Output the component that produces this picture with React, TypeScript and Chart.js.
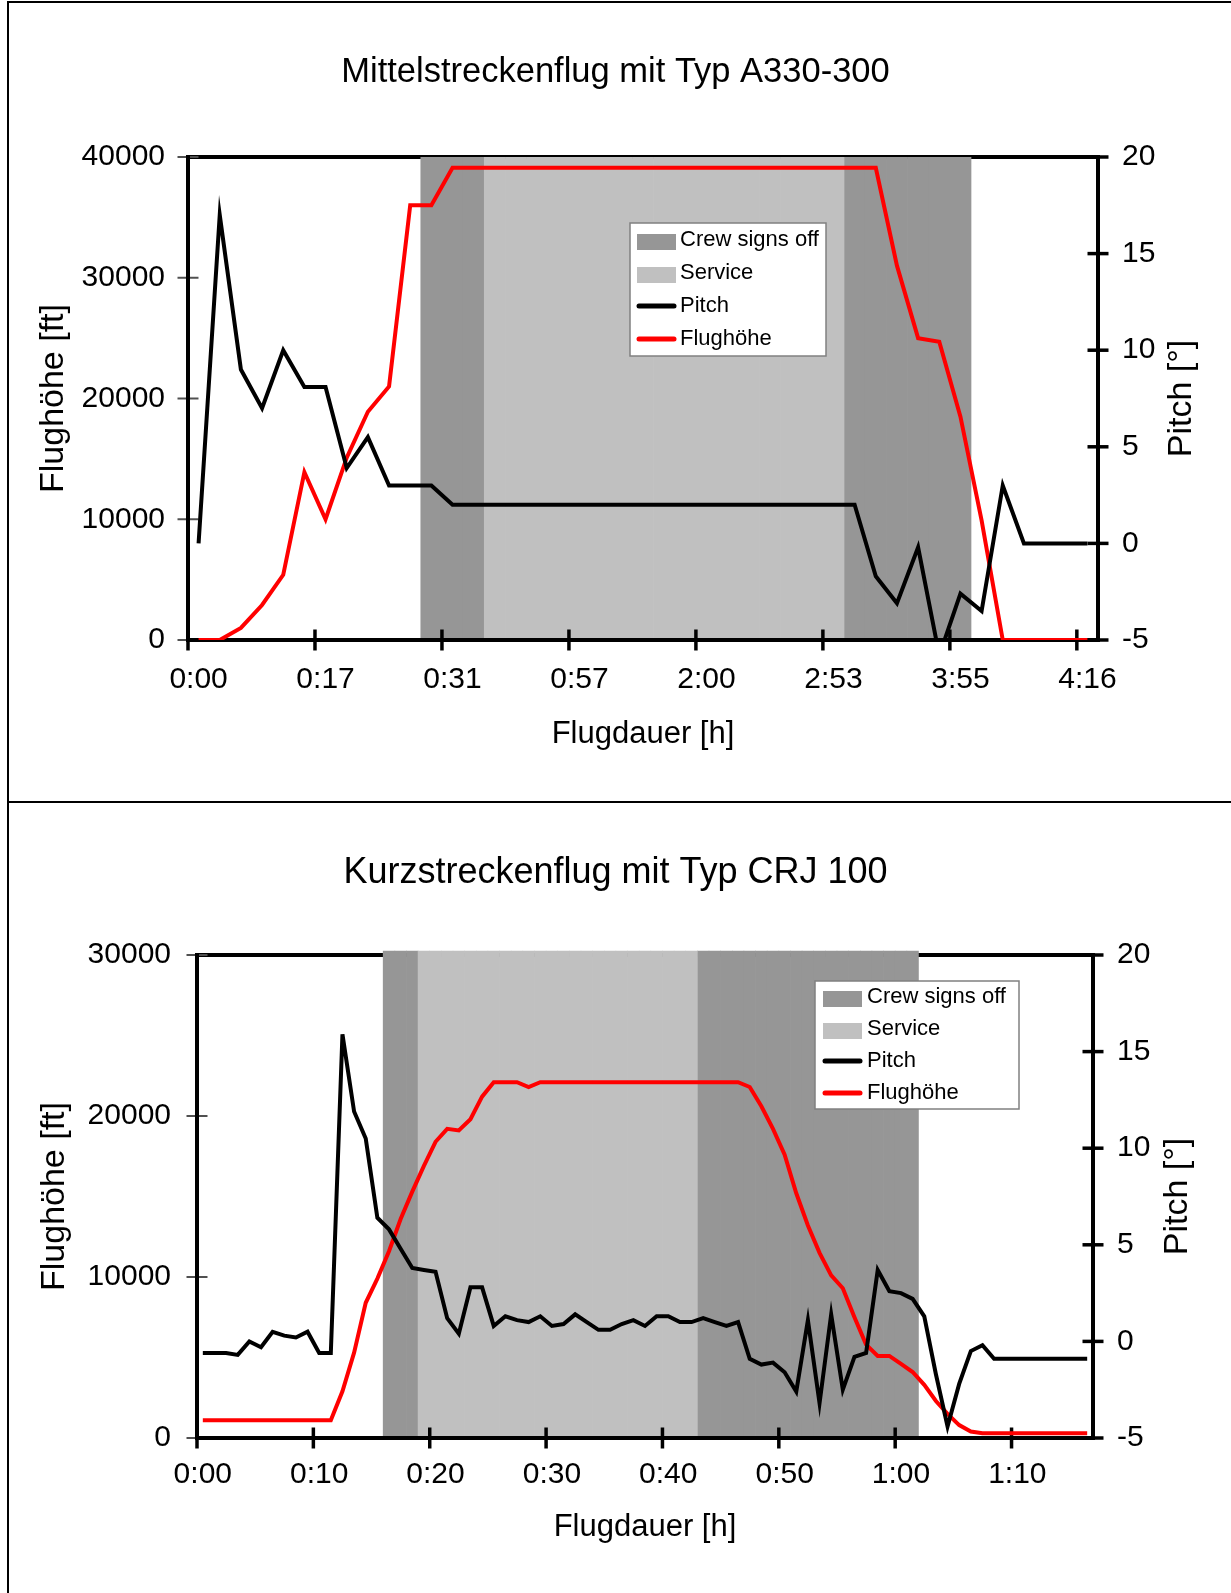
import React, { useEffect, useRef } from 'react';
import { Chart, registerables } from 'chart.js';

Chart.register(...registerables);

const FONT = '"Liberation Sans", Arial, Helvetica, sans-serif';
Chart.defaults.font.family = FONT;
Chart.defaults.color = '#000';

// ---------------- Mittelstreckenflug mit Typ A330-300 ----------------
const a330Title = 'Mittelstreckenflug mit Typ A330-300';
const a330TimeLabels = ['0:00', '0:17', '0:31', '0:57', '2:00', '2:53', '3:55', '4:16'];
const a330LabelEvery = 6;
const a330Pitch = [
  0, 17.0, 9.0, 7.0, 10.0, 8.1, 8.1, 3.9, 5.5, 3.0, 3.0, 3.0,
  2.0, 2.0, 2.0, 2.0, 2.0, 2.0, 2.0, 2.0, 2.0, 2.0,
  2.0, 2.0, 2.0, 2.0, 2.0, 2.0, 2.0, 2.0, 2.0, 2.0,
  -1.7, -3.1, -0.2, -5.8, -2.6, -3.5, 3.0, 0, 0, 0, 0,
];
const a330Altitude = [
  0, 0, 1000, 2900, 5400, 13900, 10000, 15100, 18900, 21000, 36000, 36000,
  39100, 39100, 39100, 39100, 39100, 39100, 39100, 39100, 39100, 39100,
  39100, 39100, 39100, 39100, 39100, 39100, 39100, 39100, 39100, 39100, 39100,
  31000, 25000, 24700, 18500, 9900, 0, 0, 0, 0, 0,
];
const a330CrewSignsOff = [[11, 13], [31, 36]];
const a330Service = [[14, 30]];

// ---------------- Kurzstreckenflug mit Typ CRJ 100 ----------------
const crjTitle = 'Kurzstreckenflug mit Typ CRJ 100';
const crjTimeLabels = ['0:00', '0:10', '0:20', '0:30', '0:40', '0:50', '1:00', '1:10'];
const crjLabelEvery = 10;
const crjPitch = [
  -0.6, -0.6, -0.6, -0.7, 0.0, -0.3, 0.5, 0.3, 0.2, 0.5,
  -0.6, -0.6, 15.9, 11.9, 10.5, 6.4, 5.8, 4.8, 3.8, 3.7,
  3.6, 1.2, 0.4, 2.8, 2.8, 0.8, 1.3, 1.1, 1.0, 1.3,
  0.8, 0.9, 1.4, 1.0, 0.6, 0.6, 0.9, 1.1, 0.8, 1.3,
  1.3, 1.0, 1.0, 1.2, 1.0, 0.8, 1.0, -0.9, -1.2, -1.1,
  -1.6, -2.6, 1.1, -3.2, 1.4, -2.5, -0.8, -0.6, 3.7, 2.6,
  2.5, 2.2, 1.3, -1.7, -4.4, -2.2, -0.5, -0.2, -0.9, -0.9,
  -0.9, -0.9, -0.9, -0.9, -0.9, -0.9, -0.9,
];
const crjAltitude = [
  1100, 1100, 1100, 1100, 1100, 1100, 1100, 1100, 1100, 1100,
  1100, 1100, 2900, 5300, 8400, 9900, 11600, 13600, 15300, 16900,
  18400, 19200, 19100, 19800, 21200, 22100, 22100, 22100, 21800, 22100,
  22100, 22100, 22100, 22100, 22100, 22100, 22100, 22100, 22100, 22100,
  22100, 22100, 22100, 22100, 22100, 22100, 22100, 21800, 20600, 19200,
  17600, 15200, 13200, 11500, 10100, 9300, 7500, 5800, 5100, 5100,
  4600, 4100, 3300, 2300, 1500, 800, 400, 300, 300, 300,
  300, 300, 300, 300, 300, 300, 300,
];
const crjCrewSignsOff = [[16, 18], [43, 61]];
const crjService = [[19, 42]];

const seriesNames = { crew: 'Crew signs off', service: 'Service', pitch: 'Pitch', altitude: 'Flughöhe' };
const axisTitles = { x: 'Flugdauer [h]', left: 'Flughöhe [ft]', right: 'Pitch [°]' };

// ---------------- helpers ----------------
const phaseValues = (n: number, ranges: number[][]) =>
  Array.from({ length: n }, (_, i) => (ranges.some(([a, b]) => i >= a && i <= b) ? 1 : null));

const categoryLabels = (n: number, labels: string[], every: number) =>
  Array.from({ length: n }, (_, i) => (i % every === 0 ? labels[i / every] ?? '' : ''));

function seg(ctx: any, x1: number, y1: number, x2: number, y2: number) {
  ctx.beginPath();
  ctx.moveTo(x1, y1);
  ctx.lineTo(x2, y2);
  ctx.stroke();
}

function drawAxes(chart: any, o: any) {
  const { ctx, chartArea: a, scales } = chart;
  const w = o.frameWidth;
  ctx.save();
  ctx.lineCap = 'butt';
  ctx.strokeStyle = o.leftTickColor;
  ctx.lineWidth = o.leftTickWidth;
  scales.yAlt.ticks.forEach((t: any) => {
    const y = scales.yAlt.getPixelForValue(t.value);
    seg(ctx, a.left - o.tickLen, y, a.left + o.tickLen, y);
  });
  ctx.strokeStyle = '#000';
  ctx.lineWidth = o.tickWidth;
  scales.yPitch.ticks.forEach((t: any) => {
    const y = scales.yPitch.getPixelForValue(t.value);
    seg(ctx, a.right - o.tickLen, y, a.right + o.tickLen, y);
  });
  const n = chart.data.labels.length;
  for (let i = 0; i < n; i += o.labelEvery) {
    const x = scales.x.getPixelForValue(i - 0.5);
    seg(ctx, x, a.bottom - o.tickLen, x, a.bottom + o.tickLen);
  }
  ctx.lineWidth = w;
  seg(ctx, a.left, a.top - w / 2, a.left, a.bottom + w / 2);
  seg(ctx, a.right, a.top - w / 2, a.right, a.bottom + w / 2);
  seg(ctx, a.left - w / 2, a.bottom, a.right + w / 2, a.bottom);
  ctx.restore();
}

function drawLegend(chart: any, o: any) {
  const L = o.legend;
  const { ctx, chartArea: a } = chart;
  const bx = a.left + L.dx;
  const by = a.top + L.dy;
  ctx.save();
  ctx.fillStyle = '#fff';
  ctx.fillRect(bx, by, L.w, L.h);
  ctx.strokeStyle = '#808080';
  ctx.lineWidth = 1.5;
  ctx.strokeRect(bx, by, L.w, L.h);
  ctx.font = `${L.fontSize}px ${FONT}`;
  ctx.textBaseline = 'middle';
  ctx.textAlign = 'left';
  chart.data.datasets.forEach((ds: any, i: number) => {
    const cy = by + L.rowStart + i * L.rowGap;
    const sx = bx + L.swatchDx;
    if (ds.type === 'bar') {
      ctx.fillStyle = ds.backgroundColor;
      ctx.fillRect(sx, cy - 6, L.swatchW, 16);
    } else {
      ctx.strokeStyle = ds.borderColor;
      ctx.lineWidth = 5;
      ctx.lineCap = 'round';
      seg(ctx, sx + 2, cy, sx + L.swatchW - 2, cy);
    }
    ctx.fillStyle = '#000';
    ctx.fillText(ds.label, bx + L.textDx, cy);
  });
  ctx.restore();
}

function drawRightTitle(chart: any, o: any) {
  const { ctx, chartArea: a } = chart;
  ctx.save();
  ctx.translate(a.right + o.rightTitleDx, (a.top + a.bottom) / 2);
  ctx.rotate(-Math.PI / 2);
  ctx.font = `${o.rightTitleSize}px ${FONT}`;
  ctx.fillStyle = '#000';
  ctx.textAlign = 'center';
  ctx.textBaseline = 'middle';
  ctx.fillText(o.rightTitle, 0, 0);
  ctx.restore();
}

const decorPlugin = {
  id: 'decor',
  beforeDatasetsDraw(chart: any, _args: any, o: any) {
    const { ctx, chartArea: a } = chart;
    const w = o.frameWidth;
    ctx.save();
    ctx.strokeStyle = '#000';
    ctx.lineWidth = w;
    seg(ctx, a.left - w / 2, a.top, a.right + w / 2, a.top);
    ctx.restore();
  },
  beforeDatasetDraw(chart: any, args: any, o: any) {
    if (args.index === o.axesBeforeDataset) drawAxes(chart, o);
  },
  afterDatasetsDraw(chart: any, _args: any, o: any) {
    drawLegend(chart, o);
    drawRightTitle(chart, o);
  },
};

interface PanelSpec {
  title: string;
  timeLabels: string[];
  labelEvery: number;
  pitch: number[];
  altitude: number[];
  crew: number[][];
  service: number[][];
  altMax: number;
  layout: any;
}

const a330Spec: PanelSpec = {
  title: a330Title,
  timeLabels: a330TimeLabels,
  labelEvery: a330LabelEvery,
  pitch: a330Pitch,
  altitude: a330Altitude,
  crew: a330CrewSignsOff,
  service: a330Service,
  altMax: 40000,
  layout: {
    canvasTop: 0, height: 800, leftWidth: 188, rightWidth: 133, xHeight: 160,
    titleSize: 34.5, titlePad: { top: 51.3, bottom: 64.3 }, xTickPad: 21.8, xTitlePadBottom: 47.4,
    yTitlePadTop: 33.6, leftTickPad: 23, rightTickPad: 24, rightTitleDx: 84,
    barMax: 1, barClipTop: 0,
    legend: { dx: 442, dy: 66, w: 196, h: 133, rowStart: 17, rowGap: 33, swatchDx: 7, swatchW: 39, textDx: 50, fontSize: 22 },
  },
};

const crjSpec: PanelSpec = {
  title: crjTitle,
  timeLabels: crjTimeLabels,
  labelEvery: crjLabelEvery,
  pitch: crjPitch,
  altitude: crjAltitude,
  crew: crjCrewSignsOff,
  service: crjService,
  altMax: 30000,
  layout: {
    canvasTop: 800, height: 793, leftWidth: 197, rightWidth: 138, xHeight: 155,
    titleSize: 36, titlePad: { top: 51.2, bottom: 60.6 }, xTickPad: 18.8, xTitlePadBottom: 47.4,
    yTitlePadTop: 34.6, leftTickPad: 26, rightTickPad: 24, rightTitleDx: 85,
    barMax: 0.992, barClipTop: 6,
    legend: { dx: 618, dy: 26, w: 204, h: 128, rowStart: 16, rowGap: 32, swatchDx: 8, swatchW: 39, textDx: 52, fontSize: 22 },
  },
};

function buildConfig(spec: PanelSpec): any {
  const n = spec.pitch.length;
  const L = spec.layout;
  const tickFont = { family: FONT, size: 30 };
  const numLabel = (v: any) => `${v}`;
  return {
    type: 'bar',
    data: {
      labels: categoryLabels(n, spec.timeLabels, spec.labelEvery),
      datasets: [
        {
          type: 'bar', label: seriesNames.crew, data: phaseValues(n, spec.crew),
          backgroundColor: '#969696', borderWidth: 0, barPercentage: 1, categoryPercentage: 1,
          grouped: false, yAxisID: 'yBar', order: 3,
          clip: { left: 0, right: 0, bottom: 0, top: L.barClipTop },
        },
        {
          type: 'bar', label: seriesNames.service, data: phaseValues(n, spec.service),
          backgroundColor: '#C0C0C0', borderWidth: 0, barPercentage: 1, categoryPercentage: 1,
          grouped: false, yAxisID: 'yBar', order: 2,
          clip: { left: 0, right: 0, bottom: 0, top: L.barClipTop },
        },
        {
          type: 'line', label: seriesNames.pitch, data: spec.pitch, borderColor: '#000000',
          backgroundColor: '#000000', borderWidth: 4, pointRadius: 0, tension: 0,
          yAxisID: 'yPitch', order: 0,
        },
        {
          type: 'line', label: seriesNames.altitude, data: spec.altitude, borderColor: '#FF0000',
          backgroundColor: '#FF0000', borderWidth: 4, pointRadius: 0, tension: 0,
          yAxisID: 'yAlt', order: 1,
        },
      ],
    },
    options: {
      responsive: false,
      animation: false,
      events: [],
      layout: { padding: 0 },
      scales: {
        x: {
          type: 'category', offset: true,
          grid: { display: false, drawTicks: false, offset: true },
          border: { display: false },
          ticks: { autoSkip: false, maxRotation: 0, minRotation: 0, padding: L.xTickPad, color: '#000', font: tickFont },
          title: { display: true, text: axisTitles.x, color: '#000', font: { family: FONT, size: 31 }, padding: { top: 0, bottom: L.xTitlePadBottom } },
          afterFit: (s: any) => { s.height = L.xHeight; },
        },
        yAlt: {
          type: 'linear', position: 'left', min: 0, max: spec.altMax,
          grid: { display: false, drawTicks: false },
          border: { display: false },
          ticks: { stepSize: 10000, padding: L.leftTickPad, color: '#000', font: tickFont, callback: numLabel },
          title: { display: true, text: axisTitles.left, color: '#000', font: { family: FONT, size: 34 }, padding: { top: L.yTitlePadTop, bottom: 0 } },
          afterFit: (s: any) => { s.width = L.leftWidth; },
        },
        yPitch: {
          type: 'linear', position: 'right', min: -5, max: 20,
          grid: { display: false, drawTicks: false },
          border: { display: false },
          ticks: { stepSize: 5, padding: L.rightTickPad, color: '#000', font: tickFont, callback: numLabel },
          afterFit: (s: any) => { s.width = L.rightWidth; },
        },
        yBar: { type: 'linear', display: false, min: 0, max: L.barMax },
      },
      plugins: {
        legend: { display: false },
        tooltip: { enabled: false },
        title: {
          display: true, text: spec.title, color: '#000',
          font: { family: FONT, size: L.titleSize, weight: 'normal' }, padding: L.titlePad,
        },
        decor: {
          frameWidth: 4, tickLen: 10.5, tickWidth: 3.5, leftTickColor: '#505050', leftTickWidth: 2,
          labelEvery: spec.labelEvery, axesBeforeDataset: 3,
          legend: L.legend, rightTitle: axisTitles.right, rightTitleSize: 34, rightTitleDx: L.rightTitleDx,
        },
      },
    },
    plugins: [decorPlugin],
  };
}

function FlightChart({ spec }: { spec: PanelSpec }) {
  const ref = useRef<HTMLCanvasElement>(null);
  useEffect(() => {
    const chart = new Chart(ref.current as HTMLCanvasElement, buildConfig(spec));
    return () => chart.destroy();
  }, [spec]);
  return (
    <canvas
      ref={ref}
      width={1231}
      height={spec.layout.height}
      style={{ position: 'absolute', left: 0, top: spec.layout.canvasTop, width: 1231, height: spec.layout.height }}
    />
  );
}

export default function App() {
  return (
    <div style={{ position: 'absolute', left: 0, top: 0, width: 1231, height: 1593, background: '#fff', overflow: 'hidden' }}>
      <FlightChart spec={a330Spec} />
      <FlightChart spec={crjSpec} />
      <div style={{ position: 'absolute', left: 7, top: 1, width: 1240, height: 1610, border: '2px solid #000', boxSizing: 'border-box', pointerEvents: 'none' }} />
      <div style={{ position: 'absolute', left: 7, top: 801, width: 1231, height: 2, background: '#000', pointerEvents: 'none' }} />
    </div>
  );
}
